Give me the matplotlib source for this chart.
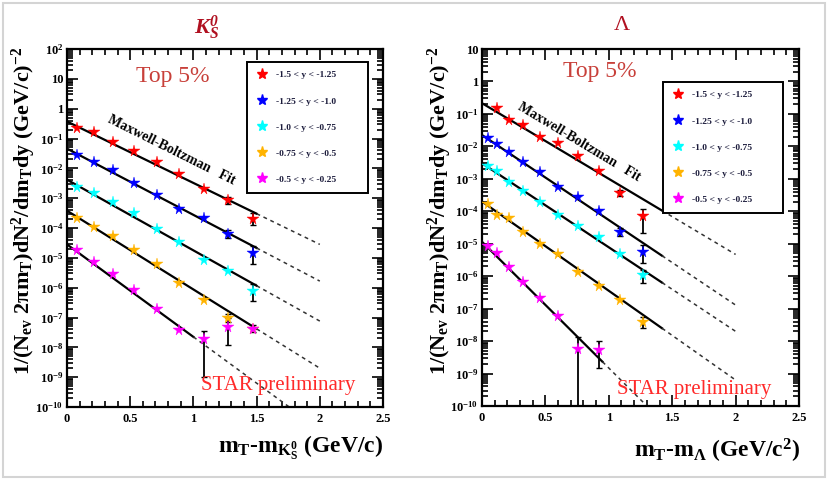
import numpy as np
import matplotlib
matplotlib.use("Agg")
import matplotlib.pyplot as plt
from matplotlib.lines import Line2D
from matplotlib.patches import Rectangle
from matplotlib.ticker import LogLocator, MultipleLocator, FuncFormatter, NullFormatter

plt.rcParams['font.family'] = ['Liberation Serif', 'DejaVu Serif']
plt.rcParams['mathtext.default'] = 'regular'

# rapidity bins, shared by both panels
labels = ["-1.5 < y < -1.25", "-1.25 < y < -1.0", "-1.0 < y < -0.75",
          "-0.75 < y < -0.5", "-0.5 < y < -0.25"]
colors = ["#ff0000", "#0000ff", "#00ffff", "#ffb300", "#ff00ff"]

# K0s spectra (left)
k_x = [0.08, 0.21, 0.36, 0.53, 0.71, 0.89, 1.08, 1.27, 1.47]
k_y = [
    [0.23, 0.17, 0.074, 0.037, 0.016, 6.6e-3, 2.1e-3, 8.5e-4, 2.0e-4],
    [0.028, 0.016, 8.5e-3, 3.2e-3, 1.3e-3, 4.4e-4, 2.2e-4, 6.5e-5, 1.5e-5],
    [2.4e-3, 1.5e-3, 7.6e-4, 3.2e-4, 9.4e-5, 3.4e-5, 8.3e-6, 3.5e-6, 7.5e-7],
    [2.2e-4, 1.1e-4, 5.3e-5, 1.9e-5, 6.0e-6, 1.45e-6, 3.8e-7, 9.8e-8, 4.2e-8],
    [1.9e-5, 7.2e-6, 2.8e-6, 8.3e-7, 2.0e-7, 3.8e-8, 1.9e-8, 4.9e-8, 4.2e-8],
]
# point index -> (low, high) of the error bar
k_err = [
    {7: (6.5e-4, 1.1e-3), 8: (1.3e-4, 3.2e-4)},
    {7: (4.5e-5, 8.5e-5), 8: (6.4e-6, 2.5e-5)},
    {8: (3.5e-7, 1.3e-6)},
    {7: (7e-8, 1.3e-7)},
    {6: (1e-9, 3.5e-8), 7: (1.2e-8, 1.0e-7), 8: (3.2e-8, 5.5e-8)},
]
# fits: log10 of value at 0, log10 slope per GeV, end of solid part
k_fit_a = [-0.43, -1.34, -2.38, -3.42, -4.55]
k_fit_b = [-2.06, -2.22, -2.37, -2.64, -3.10]
k_fit_end = [1.5, 1.5, 1.5, 1.5, 1.0]

# Lambda spectra (right)
l_x = [0.045, 0.12, 0.21, 0.32, 0.46, 0.60, 0.76, 0.92, 1.09, 1.27]
nan = np.nan
l_y = [
    [nan, 0.15, 0.063, 0.046, 0.020, 0.0126, 5.2e-3, 1.8e-3, 3.7e-4, 7.1e-5],
    [0.018, 0.012, 6.9e-3, 3.2e-3, 1.6e-3, 5.5e-4, 2.7e-4, 1.0e-4, 2.3e-5, 5.7e-6],
    [2.5e-3, 1.7e-3, 8.2e-4, 4.3e-4, 2.0e-4, 7.8e-5, 3.5e-5, 1.6e-5, 4.8e-6, 1.1e-6],
    [1.7e-4, 7.8e-5, 6.1e-5, 2.3e-5, 1.0e-5, 4.8e-6, 1.3e-6, 4.9e-7, 1.9e-7, 3.9e-8],
    [8.5e-6, 5.2e-6, 1.9e-6, 6.7e-7, 2.2e-7, 5.9e-8, 5.9e-9, 5.5e-9, nan, nan],
]
l_err = [
    {8: (3.0e-4, 4.5e-4), 9: (2.1e-5, 1.2e-4)},
    {8: (1.7e-5, 3.0e-5), 9: (2.5e-6, 9e-6)},
    {9: (6e-7, 1.6e-6)},
    {9: (2.5e-8, 5.5e-8)},
    {6: (1e-11, 1.35e-8), 7: (1.5e-9, 1.0e-8)},
]
l_fit_a = [-0.67, -1.65, -2.52, -3.70, -4.94]
l_fit_b = [-2.33, -2.62, -2.59, -2.75, -3.89]
l_fit_end = [1.42, 1.42, 1.42, 1.42, 0.95]
dash_end = 2.0

ylab = "1/(N$_{ev}$ 2πm$_{T}$)dN$^{2}$/dm$_{T}$dy (GeV/c)$^{-2}$"


def log_fmt(v, pos):
    e = int(round(np.log10(v)))
    if e == 0:
        return "1"
    if e == 1:
        return "10"
    return "10$^{%d}$" % e


def draw_panel(ax, x, ys, errs, fa, fb, fend, ytop, leg_box, mb_pos, mb_rot):
    for i in range(5):
        x1 = fend[i]
        ax.plot([0.0, x1], [10**fa[i], 10**(fa[i] + fb[i]*x1)], color='k', lw=1.6, zorder=2)
        ax.plot([x1, dash_end], [10**(fa[i] + fb[i]*x1), 10**(fa[i] + fb[i]*dash_end)],
                color='#333333', lw=1.1, ls=(0, (2.5, 2.5)), zorder=2)
    for i in range(5):
        for j, (lo, hi) in errs[i].items():
            ax.errorbar(x[j], ys[i][j], yerr=[[ys[i][j] - lo], [hi - ys[i][j]]],
                        fmt='none', ecolor='k', elinewidth=1.3, capsize=2, zorder=3)
    for i in range(5):
        ax.plot(x, ys[i], ls='none', marker='*', ms=8.5, color=colors[i],
                mec=colors[i], mew=0.3, zorder=4)

    ax.set_yscale('log')
    ax.set_xlim(0, 2.5)
    ax.set_ylim(1e-10, ytop)
    ax.xaxis.set_major_locator(MultipleLocator(0.5))
    ax.xaxis.set_minor_locator(MultipleLocator(0.1))
    ax.xaxis.set_major_formatter(FuncFormatter(lambda v, p: "%g" % v))
    ax.yaxis.set_major_locator(LogLocator(base=10, numticks=20))
    ax.yaxis.set_minor_locator(LogLocator(base=10, subs=np.arange(2, 10), numticks=20))
    ax.yaxis.set_major_formatter(FuncFormatter(log_fmt))
    ax.yaxis.set_minor_formatter(NullFormatter())
    ax.tick_params(which='both', direction='in', top=True, right=True, width=1.2)
    ax.tick_params(which='major', length=8, labelsize=9)
    ax.tick_params(which='minor', length=4)
    ax.tick_params(axis='x', pad=4)
    ax.tick_params(axis='y', pad=2.5)
    for lab in ax.get_xticklabels() + ax.get_yticklabels():
        lab.set_fontweight('bold')
    for s in ax.spines.values():
        s.set_linewidth(1.6)

    handles = [Line2D([], [], ls='none', marker='*', ms=8, color=c) for c in colors]
    leg = ax.legend(handles, labels, loc='upper left', bbox_to_anchor=leg_box,
                    mode='expand', frameon=True, fancybox=False, edgecolor='k',
                    framealpha=1, prop={'size': 6.8, 'weight': 'bold'},
                    labelspacing=1.85, borderpad=0.95, handlelength=1.2,
                    handletextpad=0.9, borderaxespad=0)
    leg.get_frame().set_linewidth(1.4)
    for t in leg.get_texts():
        t.set_color('#1c1c3c')

    ax.text(mb_pos[0], mb_pos[1], "Maxwell-Boltzman   Fit", rotation=mb_rot,
            rotation_mode='anchor', ha='center', va='center', fontsize=10,
            fontweight='bold', color='k')


fig = plt.figure(figsize=(8.28, 4.80), dpi=100)
axL = fig.add_axes([67/828, 1 - 407/480, 316/828, 358/480])
axR = fig.add_axes([482/828, 1 - 406/480, 317/828, 357/480])

draw_panel(axL, k_x, k_y, k_err, k_fit_a, k_fit_b, k_fit_end, 1e2,
           (0.570, 0.0, 0.383, 0.964), (0.83, 0.039), -26.5)
draw_panel(axR, l_x, l_y, l_err, l_fit_a, l_fit_b, l_fit_end, 1e1,
           (0.571, 0.0, 0.379, 0.908), (0.765, 0.0138), -31)

axL.text(0.335, 0.922, "Top 5%", transform=axL.transAxes, ha='center', va='center',
         fontsize=17, color='#c8403a')
axR.text(0.372, 0.936, "Top 5%", transform=axR.transAxes, ha='center', va='center',
         fontsize=17, color='#c8403a')
axL.text(0.668, 0.059, "STAR preliminary", transform=axL.transAxes, ha='center',
         va='center', fontsize=15, color='#ff2a2a')
axR.text(0.669, 0.045, "STAR preliminary", transform=axR.transAxes, ha='center',
         va='center', fontsize=15, color='#ff2a2a')

fig.text(207/828, 1 - 28/480, "K$^{0}_{S}$", ha='center', va='center', fontsize=16,
         fontweight='bold', fontstyle='italic', color='#b01020')
fig.text(622/828, 1 - 25/480, "Λ", ha='center', va='center', fontsize=16,
         color='#b01020')

fig.text(24/828, 1 - 211/480, ylab, rotation=90, ha='center', va='center',
         fontsize=16, fontweight='bold')
fig.text(440/828, 1 - 211/480, ylab, rotation=90, ha='center', va='center',
         fontsize=16, fontweight='bold')

fig.text(383/828, 1 - 453/480, "m$_{T}$-m$_{K^{0}_{S}}$ (GeV/c)", ha='right',
         va='baseline', fontsize=17, fontweight='bold')
fig.text(800/828, 1 - 458/480, "m$_{T}$-m$_{Λ}$ (GeV/c$^{2}$)", ha='right',
         va='baseline', fontsize=17, fontweight='bold')

fig.patches.append(Rectangle((0.004, 0.006), 0.992, 0.988, transform=fig.transFigure,
                             fill=False, ec='#d4d4d4', lw=1.5))

fig.savefig("out.png", dpi=100)
